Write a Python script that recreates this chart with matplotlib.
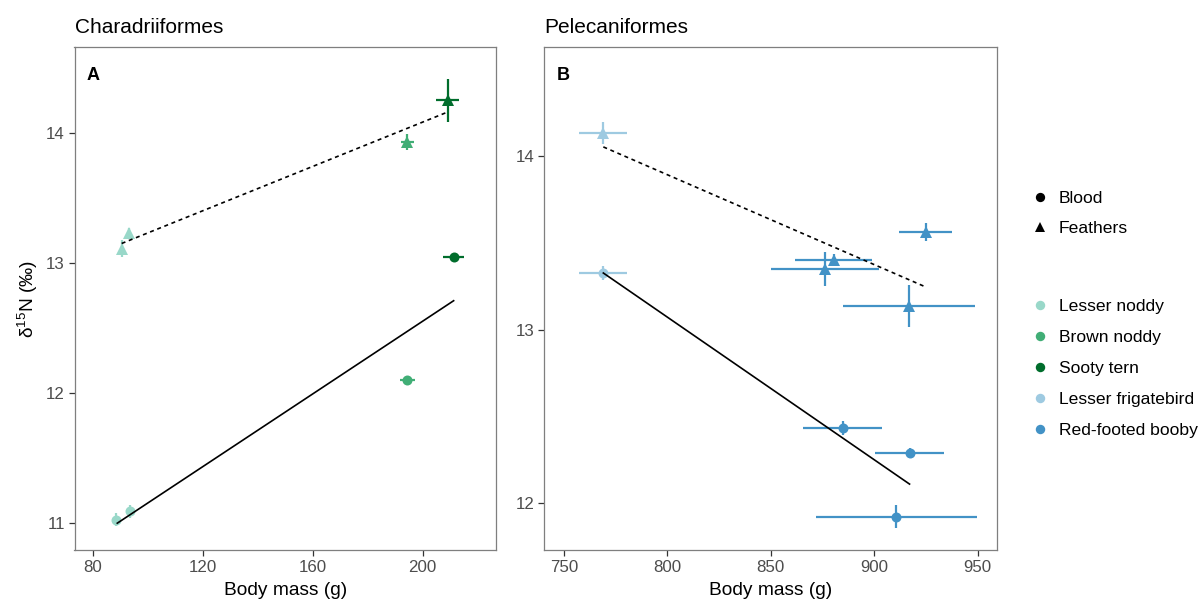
import matplotlib
matplotlib.use("Agg")
import matplotlib.pyplot as plt
from matplotlib.lines import Line2D

plt.rcParams['font.family'] = ['Liberation Sans', 'DejaVu Sans']
plt.rcParams['mathtext.fontset'] = 'custom'
plt.rcParams['mathtext.rm'] = 'Liberation Sans'
plt.rcParams['mathtext.it'] = 'Liberation Sans:italic'

# ---------------- data ----------------
# Panel A: Charadriiformes
a_species = ["Lesser noddy", "Lesser noddy", "Lesser noddy", "Lesser noddy",
             "Brown noddy", "Brown noddy", "Sooty tern", "Sooty tern"]
a_tissue = ["Blood", "Blood", "Feathers", "Feathers",
            "Feathers", "Blood", "Feathers", "Blood"]
a_mass = [88.7, 93.6, 90.6, 93.3, 194.5, 194.5, 209.1, 211.3]
a_mass_err = [0.5, 0.5, 0.5, 0.5, 2.4, 2.7, 4.2, 3.8]
a_d15n = [11.025, 11.09, 13.11, 13.23, 13.93, 12.097, 14.25, 13.044]
a_d15n_err = [0.05, 0.05, 0.065, 0.04, 0.065, 0.02, 0.167, 0.02]

# fitted lines, panel A (endpoints)
a_fit_blood_x = [89.0, 211.3]
a_fit_blood_y = [11.0, 12.71]
a_fit_feath_x = [90.6, 209.1]
a_fit_feath_y = [13.15, 14.16]

# Panel B: Pelecaniformes
b_species = ["Lesser frigatebird", "Lesser frigatebird",
             "Red-footed booby", "Red-footed booby", "Red-footed booby", "Red-footed booby",
             "Red-footed booby", "Red-footed booby", "Red-footed booby"]
b_tissue = ["Feathers", "Blood",
            "Feathers", "Feathers", "Feathers", "Feathers",
            "Blood", "Blood", "Blood"]
b_mass = [769.0, 769.0, 925.0, 880.5, 876.3, 916.8, 884.8, 917.1, 910.7]
b_mass_err = [11.6, 11.6, 12.8, 18.6, 26.0, 32.0, 19.0, 16.6, 39.0]
b_d15n = [14.135, 13.327, 13.564, 13.40, 13.35, 13.135, 12.433, 12.29, 11.923]
b_d15n_err = [0.064, 0.04, 0.05, 0.035, 0.10, 0.122, 0.04, 0.03, 0.067]

b_fit_blood_x = [769.0, 917.1]
b_fit_blood_y = [13.327, 12.11]
b_fit_feath_x = [769.0, 925.0]
b_fit_feath_y = [14.054, 13.246]

species_order = ["Lesser noddy", "Brown noddy", "Sooty tern",
                 "Lesser frigatebird", "Red-footed booby"]
species_colors = ["#99d8c9", "#41ae76", "#006d2c", "#9ecae1", "#4292c6"]
tissue_order = ["Blood", "Feathers"]
tissue_markers = ["o", "^"]

colmap = dict(zip(species_order, species_colors))
mkmap = dict(zip(tissue_order, tissue_markers))
mksize = {"o": 7.2, "^": 8.2}

# ---------------- figure ----------------
fig = plt.figure(figsize=(12, 5.99), dpi=100)
W, H = 1200, 599
def rect(l, t, r, b):
    return [l / W, 1 - b / H, (r - l) / W, (b - t) / H]

axA = fig.add_axes(rect(74.5, 47, 496, 550))
axB = fig.add_axes(rect(544, 47, 997, 550))

def draw(ax, species, tissue, mass, merr, d, derr):
    for s, t, x, xe, y, ye in zip(species, tissue, mass, merr, d, derr):
        c = colmap[s]
        ax.errorbar(x, y, xerr=xe, yerr=ye, fmt='none', ecolor=c,
                    elinewidth=1.6, capsize=0, zorder=2)
        m = mkmap[t]
        ax.plot(x, y, marker=m, color=c, markersize=mksize[m],
                linestyle='none', zorder=3, markeredgewidth=0)

draw(axA, a_species, a_tissue, a_mass, a_mass_err, a_d15n, a_d15n_err)
draw(axB, b_species, b_tissue, b_mass, b_mass_err, b_d15n, b_d15n_err)

for ax, bx, by, fx, fy in [(axA, a_fit_blood_x, a_fit_blood_y, a_fit_feath_x, a_fit_feath_y),
                           (axB, b_fit_blood_x, b_fit_blood_y, b_fit_feath_x, b_fit_feath_y)]:
    ax.plot(bx, by, color='black', lw=1.2, zorder=4)
    ax.plot(fx, fy, color='black', lw=1.2, linestyle=(0, (2.4, 2.2)), zorder=4)

axA.set_xlim(73.45, 226.7)
axA.set_ylim(10.794, 14.66)
axA.set_xticks([80, 120, 160, 200])
axA.set_yticks([11, 12, 13, 14])

axB.set_xlim(740.3, 959.4)
axB.set_ylim(11.73, 14.63)
axB.set_xticks([750, 800, 850, 900, 950])
axB.set_yticks([12, 13, 14])

for ax, title, letter in [(axA, "Charadriiformes", "A"), (axB, "Pelecaniformes", "B")]:
    for sp in ax.spines.values():
        sp.set_color("#7f7f7f")
        sp.set_linewidth(0.9)
    ax.tick_params(axis='both', colors="#333333", labelcolor="#4d4d4d",
                   labelsize=12.2, length=4, width=0.9, pad=3)
    ax.set_title(title, loc='left', fontsize=15, pad=10, color='black')
    ax.text(0.028, 0.96, letter, transform=ax.transAxes, fontsize=13,
            fontweight='bold', va='top', ha='left')
    ax.set_xlabel("Body mass (g)", fontsize=13.8, labelpad=5)

axA.set_ylabel(r"δ$^{15}$N (‰)", fontsize=13.8, labelpad=4)

# legends
lfs = 12.6
tissue_handles = [Line2D([], [], marker=m, color='black', linestyle='none',
                         markersize=mksize[m] - 0.5, markeredgewidth=0)
                  for m in tissue_markers]
leg1 = fig.legend(tissue_handles, tissue_order, loc='upper left',
                  bbox_to_anchor=(1029 / W, 1 - 191 / H), frameon=False,
                  fontsize=lfs, handlelength=1.2, handletextpad=0.5,
                  labelspacing=0.82, borderaxespad=0, borderpad=0)

species_handles = [Line2D([], [], marker='o', color=c, linestyle='none',
                          markersize=6.8, markeredgewidth=0)
                   for c in species_colors]
leg2 = fig.legend(species_handles, species_order, loc='upper left',
                  bbox_to_anchor=(1029 / W, 1 - 299 / H), frameon=False,
                  fontsize=lfs, handlelength=1.2, handletextpad=0.5,
                  labelspacing=0.9, borderaxespad=0, borderpad=0)

fig.savefig("out.png", dpi=100)
